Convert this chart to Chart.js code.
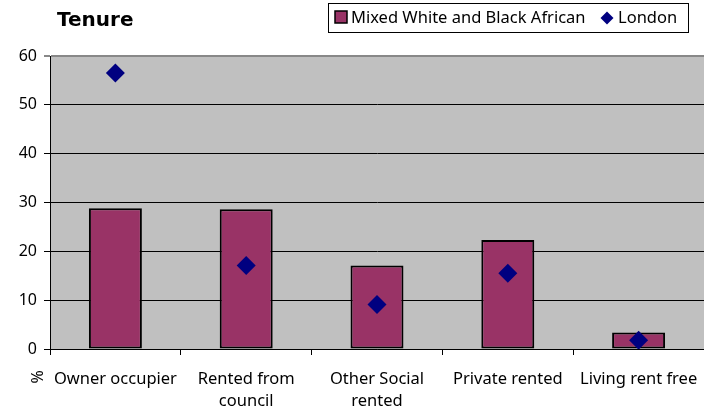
<!DOCTYPE html>
<html>
<head>
<meta charset="utf-8">
<script src="https://cdn.jsdelivr.net/npm/chart.js@4"></script>
<style>
  html, body { margin: 0; padding: 0; background: #ffffff; }
  #wrap { width: 704px; height: 409px; position: relative; }
</style>
</head>
<body>
<div id="wrap"><canvas id="c" width="704" height="409"></canvas></div>
<script>
const chartTitle = "Tenure";
const axisTitle = "%";
const categories = [["Owner occupier"], ["Rented from", "council"], ["Other Social", "rented"], ["Private rented"], ["Living rent free"]];
const seriesNames = ["Mixed White and Black African", "London"];
const mixedValues = [28.8, 28.6, 17.1, 22.3, 3.4];
const londonValues = [56.5, 17.1, 9.1, 15.5, 1.8];
const yTicks = [0, 10, 20, 30, 40, 50, 60];

const FONT = "'Noto Sans', 'Open Sans', sans-serif";
const BAR_COLOR = "#993366";
const PT_COLOR = "#000080";

const overlay = {
  id: 'overlay',
  afterDraw(chart) {
    const ctx = chart.ctx;
    const barDs = chart.data.datasets.find(d => d.type === 'bar');
    const lineDs = chart.data.datasets.find(d => d.type === 'line');
    ctx.save();
    // Title
    ctx.fillStyle = '#000';
    ctx.font = "bold 20px 'DejaVu Sans', sans-serif";
    ctx.textBaseline = 'middle';
    ctx.textAlign = 'left';
    ctx.fillText(chartTitle, 57, 21);
    // Legend
    const lx = 328, ly = 3, lw = 360, lh = 29;
    ctx.fillStyle = '#fff';
    ctx.fillRect(lx, ly, lw, lh);
    ctx.strokeStyle = '#000';
    ctx.lineWidth = 1;
    ctx.strokeRect(lx + 0.5, ly + 0.5, lw, lh);
    ctx.font = "16.5px " + FONT;
    // bar marker
    ctx.fillStyle = BAR_COLOR;
    ctx.fillRect(335, 11, 12, 12);
    ctx.strokeStyle = '#000';
    ctx.lineWidth = 1.5;
    ctx.strokeRect(335, 11, 12, 12);
    ctx.fillStyle = '#000';
    ctx.textBaseline = 'middle';
    ctx.fillText(barDs.label, 351, 18);
    // diamond marker
    ctx.fillStyle = PT_COLOR;
    ctx.beginPath();
    ctx.moveTo(607, 11.5); ctx.lineTo(613.5, 18); ctx.lineTo(607, 24.5); ctx.lineTo(600.5, 18);
    ctx.closePath(); ctx.fill();
    ctx.fillStyle = '#000';
    ctx.fillText(lineDs.label, 618, 18);
    // axis title "%"
    ctx.translate(36, 377);
    ctx.rotate(Math.PI / 2);
    ctx.textAlign = 'center';
    ctx.font = "16px " + FONT;
    ctx.fillText(axisTitle, 0, 0);
    ctx.restore();
  }
};

const bg = {
  id: 'bg',
  beforeDraw(chart) {
    const a = chart.chartArea;
    const ctx = chart.ctx;
    ctx.save();
    ctx.fillStyle = '#fff';
    ctx.fillRect(0, 0, chart.width, chart.height);
    ctx.fillStyle = '#C0C0C0';
    ctx.fillRect(a.left, a.top, a.right - a.left, a.bottom - a.top);
    ctx.restore();
  }
};

new Chart(document.getElementById('c'), {
  type: 'bar',
  data: {
    labels: categories,
    datasets: [
      {
        type: 'line',
        label: seriesNames[1],
        data: londonValues,
        showLine: false,
        pointStyle: 'rectRot',
        pointRadius: 9.5,
        pointHoverRadius: 9.5,
        pointBackgroundColor: PT_COLOR,
        pointBorderColor: PT_COLOR,
        pointBorderWidth: 0,
        order: 0
      },
      {
        type: 'bar',
        label: seriesNames[0],
        data: mixedValues,
        backgroundColor: BAR_COLOR,
        borderColor: '#000',
        borderWidth: 2,
        borderSkipped: false,
        categoryPercentage: 1,
        barPercentage: 0.405,
        order: 1
      }
    ]
  },
  options: {
    responsive: false,
    animation: false,
    events: [],
    layout: { autoPadding: false, padding: { top: 56, left: 0, right: 0, bottom: 0 } },
    plugins: { legend: { display: false }, title: { display: false }, tooltip: { enabled: false } },
    scales: {
      x: {
        offset: true,
        grid: { display: true, drawOnChartArea: false, offset: true, color: '#000', tickLength: 6, lineWidth: 1 },
        border: { display: true, color: '#000', width: 1 },
        ticks: { color: '#000', font: { family: FONT, size: 16.5, lineHeight: 1.35 }, padding: 13, maxRotation: 0, autoSkip: false },
        afterFit(s) { s.height = 60; s.paddingLeft = 0; s.paddingRight = 0; }
      },
      y: {
        min: 0, max: 60,
        afterBuildTicks(s) { s.ticks = yTicks.map(v => ({ value: v })); },
        grid: {
          color: ctx => (ctx.tick && ctx.tick.value === 60) ? '#888888' : '#000000',
          lineWidth: ctx => (ctx.tick && ctx.tick.value === 60) ? 2 : 1,
          tickLength: 6,
          drawTicks: true
        },
        border: { display: true, color: '#000', width: 1 },
        ticks: { color: '#000', font: { family: FONT, size: 16 }, padding: 7 },
        afterFit(s) { s.width = 50; s.paddingTop = 0; s.paddingBottom = 0; }
      }
    }
  },
  plugins: [bg, overlay]
});
</script>
</body>
</html>
